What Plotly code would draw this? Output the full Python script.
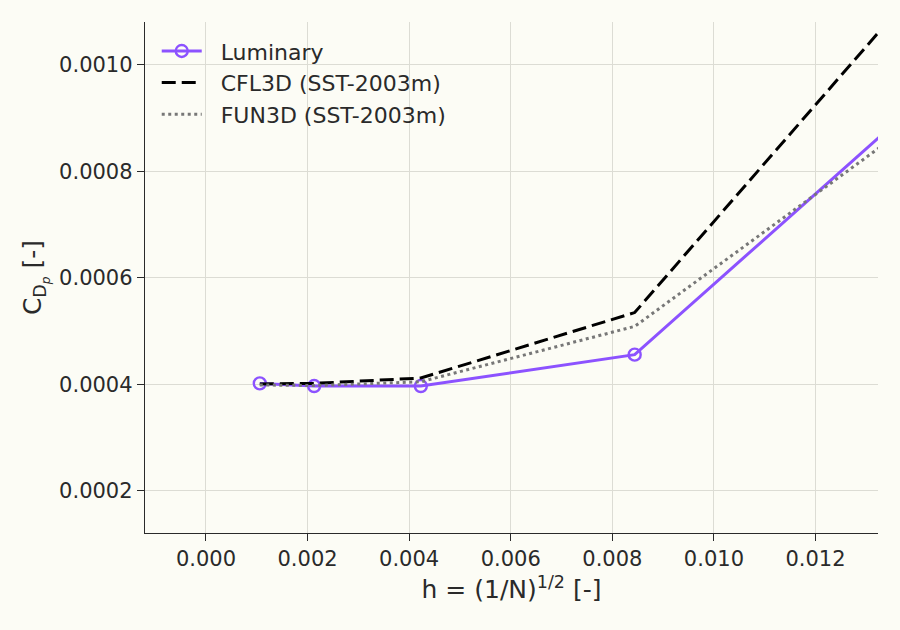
import plotly.graph_objects as go

# grid spacing h = (1/N)^(1/2)
h = [0.00106, 0.00213, 0.00423, 0.00844, 0.01688]

cdp_luminary = [0.000402, 0.000397, 0.000397, 0.000456, 0.001172]
cdp_cfl3d = [0.000401, 0.000402, 0.000412, 0.000535, 0.001460]
cdp_fun3d = [0.000399, 0.000398, 0.000405, 0.000509, 0.001097]

x_ticks = [0.000, 0.002, 0.004, 0.006, 0.008, 0.010, 0.012]
y_ticks = [0.0002, 0.0004, 0.0006, 0.0008, 0.0010]

bg = '#fcfcf5'
grid = '#dcdcd4'
ink = '#2a2a2a'
font = 'DejaVu Sans'
pad = '\u00a0\u00a0'  # push legend labels away from the line samples

fig = go.Figure()

fig.add_trace(go.Scatter(
    x=h, y=cdp_luminary, name=pad + 'Luminary',
    mode='lines+markers',
    line=dict(color='#8c52ff', width=3),
    marker=dict(symbol='circle-open', size=12, color='#8c52ff', line=dict(width=2.4)),
))
fig.add_trace(go.Scatter(
    x=h, y=cdp_cfl3d, name=pad + 'CFL3D (SST-2003m)',
    mode='lines',
    line=dict(color='black', width=3, dash='14px,6px'),
))
fig.add_trace(go.Scatter(
    x=h, y=cdp_fun3d, name=pad + 'FUN3D (SST-2003m)',
    mode='lines',
    line=dict(color='#777777', width=3, dash='3px,3.5px'),
))

axis_common = dict(
    showgrid=True, gridcolor=grid, gridwidth=1,
    showline=True, linecolor=ink, linewidth=1.4,
    ticks='outside', ticklen=7, tickwidth=1.3, tickcolor=ink,
    zeroline=False, mirror=False,
    tickfont=dict(size=21, color=ink, family=font),
)

fig.update_xaxes(
    range=[-0.0012, 0.01323],
    tickvals=x_ticks, tickformat='.3f',
    title=dict(text='h = (1/N)<sup>1/2</sup> [-]', font=dict(size=25, color=ink, family=font), standoff=10),
    **axis_common,
)
fig.update_yaxes(
    range=[0.000121, 0.0010807],
    tickvals=y_ticks, tickformat='.4f',
    title=dict(text='C<sub>D<sub><i>p</i></sub></sub> [-]', font=dict(size=25, color=ink, family=font), standoff=10),
    **axis_common,
)

fig.update_layout(
    width=900, height=630,
    paper_bgcolor=bg, plot_bgcolor=bg,
    margin=dict(l=145, r=22, t=22, b=97),
    font=dict(family=font, color=ink),
    showlegend=True,
    legend=dict(
        x=0.016, y=0.984, xanchor='left', yanchor='top',
        bgcolor='rgba(0,0,0,0)', font=dict(size=22, family=font, color=ink),
        itemwidth=40,
    ),
)

# strip the page's default body margin so the figure fills the window
fig.write_html('out.html', config={'displayModeBar': False},
               post_script="document.body.style.margin='0';")
